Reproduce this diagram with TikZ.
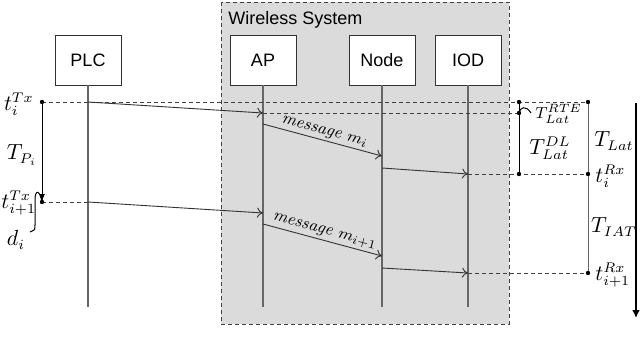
\documentclass[tikz,border=0pt]{standalone}
\usepackage{amsmath,amssymb}
\usepackage{fontspec}
\newfontfamily\boxfont{Liberation Sans}
\usetikzlibrary{arrows.meta}

\begin{document}
\begin{tikzpicture}[x=0.5pt,y=-0.5pt,
  actor/.style={draw=black!80, fill=white, minimum width=33pt, minimum height=25pt, inner sep=0pt, font=\boxfont\fontsize{9}{11}\selectfont},
  life/.style={draw=black!60, line width=0.6pt},
  msg/.style={draw=black!80, line width=0.45pt, -{To[length=3pt,width=5pt]}},
  guide/.style={draw=black!75, line width=0.45pt, dash pattern=on 2pt off 1.5pt},
  lbl/.style={font=\fontsize{10.5}{12}\selectfont, inner sep=0pt}]
\useasboundingbox (0,0) rectangle (644,337);
% wireless system
\draw[black!75, dash pattern=on 2pt off 1.5pt, fill=black!14] (221,2) rectangle (509,324);
\node[anchor=base west, inner sep=0pt, font=\boxfont\fontsize{9}{11}\selectfont] (wsl) at (228,25) {Wireless System};
% actors
\node[actor] (plc) at (88,60) {PLC};
\node[actor] (ap) at (263,60) {AP};
\node[actor] (nd) at (382,60) {Node};
\node[actor] (iod) at (468,60) {IOD};
\coordinate (bot) at (0,307);
\draw[life] (plc.south) -- (plc.south |- bot);
\draw[life] (ap.south) -- (ap.south |- bot);
\draw[life] (nd.south) -- (nd.south |- bot);
\draw[life] (iod.south) -- (iod.south |- bot);
% time points
\coordinate (txa) at (42,102);
\coordinate (txb) at (42,202);
\coordinate (rtea) at (519,102);
\coordinate (rteb) at (519,113);
\coordinate (rtec) at (519,174);
\coordinate (lata) at (588,102);
\coordinate (latb) at (588,174);
\coordinate (iatb) at (588,273);
\coordinate (plca) at (88,102);
\coordinate (apa) at (263,113);
\coordinate (apa2) at (263,124);
\coordinate (nda) at (382,156);
\coordinate (nda2) at (382,168);
\coordinate (ioda) at (468,174);
\coordinate (plcb) at (88,202);
\coordinate (apb) at (263,213);
\coordinate (apb2) at (263,224);
\coordinate (ndb) at (382,256);
\coordinate (ndb2) at (382,268);
\coordinate (iodb) at (468,273);
% dashed guides
\draw[guide] (txa) -- (lata);
\draw[guide] (apa) -- (rteb);
\draw[guide] (ioda) -- (latb);
\draw[guide] (txb) -- (plcb);
\draw[guide] (iodb) -- (iatb);
% messages
\draw[msg] (plca) -- (apa);
\draw[msg] (apa2) -- node[midway, above, sloped, inner sep=1pt, font=\fontsize{8.5}{10}\selectfont] (msga) {\textit{message} $m_i$} (nda);
\draw[msg] (nda2) -- (ioda);
\draw[msg] (plcb) -- (apb);
\draw[msg] (apb2) -- node[midway, above, sloped, inner sep=1pt, font=\fontsize{8.5}{10}\selectfont] (msgb) {\textit{message} $m_{i+1}$} (ndb);
\draw[msg] (ndb2) -- (iodb);
% intervals
\draw[line width=0.5pt, -{Latex[length=4pt,width=3pt]}] (txa) -- (txb);
\draw[line width=0.5pt] (rtea) -- (rtec);
\draw[line width=0.5pt, black!60] (lata) -- (iatb);
\draw[line width=0.5pt] (txb) .. controls (40,190) and (35,189) .. (35,200) -- (35,225) .. controls (35,230) .. (30,232);
\draw[line width=0.5pt] (rteb) .. controls (520,107) and (526,105) .. (531,113);
\foreach \p in {txa,txb,rtea,rteb,rtec,lata,latb,iatb}
  \fill (\p) circle (2.2);
\coordinate (axa) at (636,103);
\coordinate (axb) at (636,318);
\draw[line width=0.9pt, -{Latex[length=4pt,width=4pt]}] (axa) -- (axb);
% labels
\node[lbl, anchor=east] (ltxa) at (34,104) {$t_i^{Tx}$};
\node[lbl] (ltp) at (22,155) {$T_{P_i}$};
\node[lbl, anchor=west] (ltxb) at (1,203) {$t_{i+1}^{Tx}$};
\node[lbl] (ldi) at (16,240) {$d_i$};
\node[lbl, anchor=west, font=\fontsize{8}{9}\selectfont] (lrte) at (535,114) {$T_{Lat}^{RTE}$};
\node[lbl] (ldl) at (550,148) {$T_{Lat}^{DL}$};
\node[lbl] (llat) at (614,141) {$T_{Lat}$};
\node[lbl, anchor=west] (lrxa) at (595,176) {$t_i^{Rx}$};
\node[lbl] (liat) at (614,227) {$T_{IAT}$};
\node[lbl, anchor=west] (lrxb) at (595,275) {$t_{i+1}^{Rx}$};
\end{tikzpicture}
\end{document}
